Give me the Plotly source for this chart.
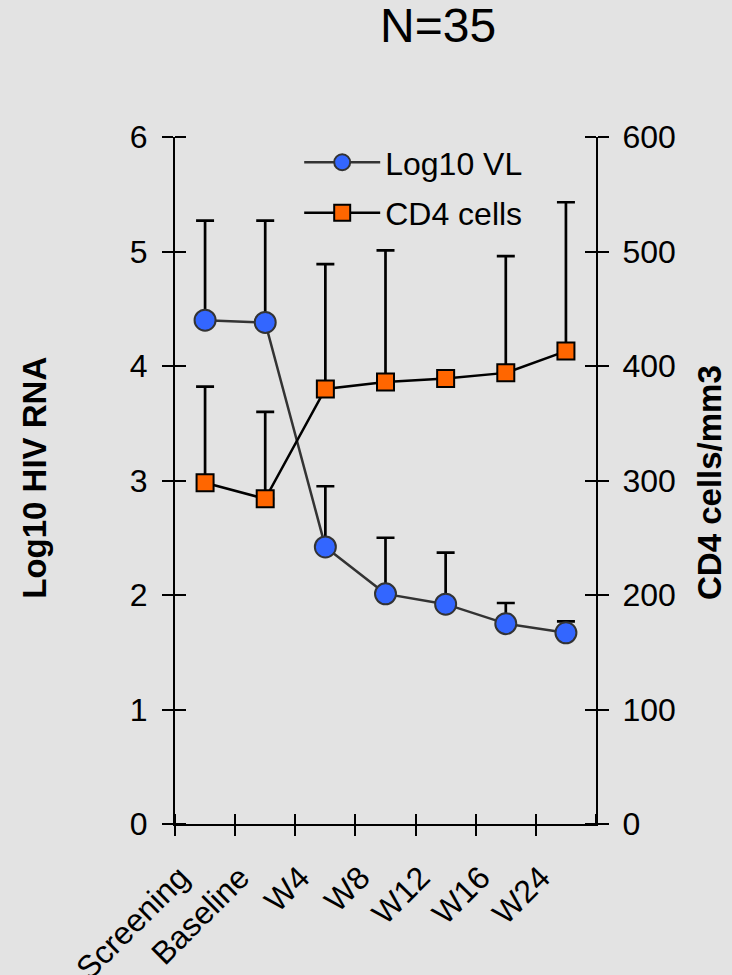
import plotly.graph_objects as go

categories = ["Screening", "Baseline", "W4", "W8", "W12", "W16", "W24"]
vl_mean = [4.40, 4.38, 2.42, 2.01, 1.92, 1.75, 1.67]
vl_err_plus = [0.87, 0.89, 0.53, 0.49, 0.45, 0.18, 0.10]
vl_err_minus = [0, 0, 0, 0, 0, 0, 0]
cd4_mean = [298, 284, 380, 386, 389, 394, 413]
cd4_err_plus = [84, 76, 109, 115, None, 102, 130]
cd4_err_minus = [0, 0, 0, 0, None, 0, 0]
left_ticks = [0, 1, 2, 3, 4, 5, 6]
right_ticks = [0, 100, 200, 300, 400, 500, 600]

# category positions on a numeric axis; ticks sit on the category boundaries
x_pos = list(range(len(categories)))
x_bounds = [i - 0.5 for i in range(len(categories) + 1)]
x_bound_text = categories + [""]

FONT = "Liberation Sans, Arial, sans-serif"
BG = "#e3e3e3"
TICKFONT = dict(family=FONT, size=32, color="black")

fig = go.Figure()
fig.add_trace(go.Scatter(
    x=x_pos, y=vl_mean, name="Log10 VL", mode="lines+markers",
    line=dict(color="#333333", width=2.5),
    marker=dict(symbol="circle", size=21, color="#3366ff",
                line=dict(color="#333333", width=2)),
    error_y=dict(type="data", symmetric=False, array=vl_err_plus,
                 arrayminus=vl_err_minus, color="black", thickness=2.7, width=9),
    customdata=categories, hovertemplate="%{customdata}: %{y}<extra></extra>",
    xaxis="x", yaxis="y", legendgroup="a"))
fig.add_trace(go.Scatter(
    x=x_pos, y=cd4_mean, name="CD4 cells", mode="lines+markers",
    line=dict(color="black", width=2.5),
    marker=dict(symbol="square", size=17, color="#ff6600",
                line=dict(color="black", width=2)),
    error_y=dict(type="data", symmetric=False, array=cd4_err_plus,
                 arrayminus=cd4_err_minus, color="black", thickness=2.7, width=9),
    customdata=categories, hovertemplate="%{customdata}: %{y}<extra></extra>",
    xaxis="x", yaxis="y2", legendgroup="b"))

tick_style = dict(ticklen=10, tickwidth=2, tickcolor="black")
minor_x = dict(tickmode="array", tickvals=x_bounds, ticks="inside", showgrid=False,
               ticklen=10, tickwidth=2, tickcolor="black")

fig.update_layout(
    width=732, height=975,
    paper_bgcolor=BG, plot_bgcolor=BG,
    margin=dict(l=175, r=136, t=137, b=151),
    font=dict(family=FONT, size=32, color="black"),
    showlegend=True,
    legend=dict(x=0.295, y=1.003, xanchor="left", yanchor="top",
                bgcolor="rgba(0,0,0,0)", itemwidth=76,
                traceorder="grouped", tracegroupgap=6,
                font=dict(family=FONT, size=32, color="black")),
    xaxis=dict(range=[-0.5, 6.5], tickmode="array", tickvals=x_bounds,
               ticktext=x_bound_text, ticks="outside", **tick_style,
               minor=minor_x, showgrid=False, zeroline=False,
               showline=True, linewidth=2, linecolor="black",
               tickangle=-45, tickfont=TICKFONT, automargin=False,
               ticklabelstandoff=10, ticklabelshift=5),
    yaxis=dict(range=[0, 6], tickmode="array", tickvals=left_ticks,
               ticks="outside", ticklen=11, tickwidth=2, tickcolor="black",
               minor=dict(tickmode="array", tickvals=left_ticks, ticks="inside",
                          ticklen=11, tickwidth=2, tickcolor="black",
                          showgrid=False),
               showgrid=False, zeroline=False, showline=True, linewidth=2,
               linecolor="black", tickfont=TICKFONT, ticklabelstandoff=8,
               automargin=False),
    yaxis2=dict(range=[0, 600], tickmode="array", tickvals=right_ticks,
                overlaying="y", side="right", anchor="x",
                ticks="outside", ticklen=11, tickwidth=2, tickcolor="black",
                minor=dict(tickmode="array", tickvals=right_ticks, ticks="inside",
                           ticklen=11, tickwidth=2, tickcolor="black",
                           showgrid=False),
                showgrid=False, zeroline=False, showline=True, linewidth=2,
                linecolor="black", tickfont=TICKFONT, ticklabelstandoff=7,
                automargin=False),
    annotations=[
        dict(text="N=35", xref="paper", yref="paper", x=0.6247, y=1.1617,
             xanchor="center", yanchor="middle", showarrow=False,
             font=dict(family=FONT, size=48, color="black")),
        dict(text="<b>Log10 HIV RNA</b>", xref="paper", yref="paper",
             x=-0.3325, y=0.504, textangle=-90, xanchor="center",
             yanchor="middle", showarrow=False,
             font=dict(family=FONT, size=33, color="black")),
        dict(text="<b>CD4 cells/mm3</b>", xref="paper", yref="paper",
             x=1.2708, y=0.4964, textangle=-90, xanchor="center",
             yanchor="middle", showarrow=False,
             font=dict(family=FONT, size=33, color="black")),
    ],
)

fig.write_html("out.html")
